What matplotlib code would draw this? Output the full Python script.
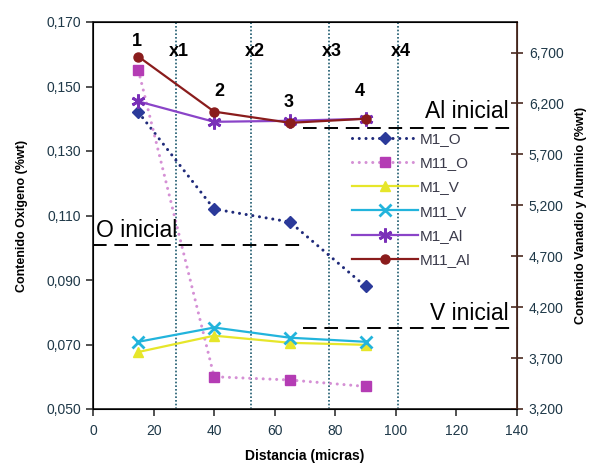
import matplotlib
matplotlib.use("Agg")
import matplotlib.pyplot as plt

plt.rcParams['font.family'] = ['Liberation Sans', 'DejaVu Sans']

# ------------------------------------------------------------
# datos
# ------------------------------------------------------------
distancia = [15, 40, 65, 90]   # micras

# oxigeno (eje izquierdo, %wt)
m1_o = [0.142, 0.112, 0.108, 0.088]
m11_o = [0.155, 0.060, 0.059, 0.057]

# vanadio y aluminio (eje derecho, %wt)
m1_v = [3.76, 3.92, 3.85, 3.83]
m11_v = [3.86, 4.00, 3.90, 3.86]
m1_al = [6.22, 6.02, 6.03, 6.05]
m11_al = [6.66, 6.12, 6.01, 6.05]

# valores iniciales
o_inicial = 0.101
al_inicial = 5.96
v_inicial = 4.00

# limites de zona x1..x4
limites = [27.5, 52.3, 77.8, 100.7]
zonas = ["x1", "x2", "x3", "x4"]

# numeros de punto 1..4 (x, y en eje oxigeno)
puntos_x = [14.5, 41.6, 64.7, 88.1]
puntos_y = [0.1638, 0.1483, 0.1449, 0.1483]
puntos_txt = ["1", "2", "3", "4"]

tick_color = "#1e3848"
punteado = (0, (0.01, 2.2))   # puntos redondos

fig = plt.figure(figsize=(5.97, 4.66), dpi=100)
ax = fig.add_axes([93 / 597, 1 - 409 / 466, 424 / 597, 387 / 466])
ax2 = ax.twinx()

# lineas verticales de las zonas
for xl in limites:
    ax.axvline(xl, color="#1d5a6e", lw=1.2, ls=(0, (1, 1.2)), zorder=1)

# series de oxigeno
ax.plot(distancia, m1_o, color="#1f2a7a", ls=punteado, lw=2.2, dash_capstyle="round",
        marker="D", ms=6.5, mfc="#2b3a9a", mec="#2b3a9a", label="M1_O", zorder=3)
ax.plot(distancia, m11_o, color="#d590d5", ls=punteado, lw=2.2, dash_capstyle="round",
        marker="s", ms=6.5, mfc="#b43cb4", mec="#b43cb4", label="M11_O", zorder=3)

# series de vanadio y aluminio
ax2.plot(distancia, m1_v, color="#e6e62a", lw=1.6,
         marker="^", ms=7, mfc="#e6e62a", mec="#e6e62a", label="M1_V", zorder=3)
ax2.plot(distancia, m11_v, color="#22b4dc", lw=1.6,
         marker="x", ms=8, mew=2, label="M11_V", zorder=3)
ax2.plot(distancia, m1_al, color="#8a44c8", lw=1.6,
         marker=(6, 2, 0), ms=10, mew=2, mec="#7a30b8", label="M1_Al", zorder=3)
ax2.plot(distancia, m11_al, color="#8a1c1c", lw=1.6,
         marker="o", ms=6.5, mfc="#8a1c1c", mec="#8a1c1c", label="M11_Al", zorder=4)

# lineas de valores iniciales
ax.hlines(o_inicial, 0, 69.5, colors="black", lw=1.4, linestyles=(0, (7, 4)), zorder=2)
ax2.hlines(al_inicial, 69.5, 140, colors="black", lw=1.4, linestyles=(0, (7, 4)), zorder=2)
ax2.hlines(v_inicial, 69.5, 140, colors="black", lw=1.4, linestyles=(0, (7, 4)), zorder=2)

ax.text(1.0, 0.1033, "O inicial", fontsize=16.5, ha="left", va="baseline")
ax2.text(137.3, 6.058, "Al inicial", fontsize=16.5, ha="right", va="baseline")
ax2.text(137.3, 4.074, "V inicial", fontsize=16.5, ha="right", va="baseline")

# etiquetas de zona y de punto
for xl, z in zip(limites, zonas):
    ax.text(xl + 1, 0.1607, z, fontsize=13, fontweight="bold", ha="center", va="center")
for px, py, t in zip(puntos_x, puntos_y, puntos_txt):
    ax.text(px, py, t, fontsize=13, fontweight="bold", ha="center", va="center")

# ejes
ax.set_xlim(0, 140)
ax.set_ylim(0.050, 0.170)
ax2.set_ylim(3.2, 7.0)

xt = list(range(0, 141, 20))
ax.set_xticks(xt)
ax.set_xticklabels([str(v) for v in xt])

yt = [0.050, 0.070, 0.090, 0.110, 0.130, 0.150, 0.170]
ax.set_yticks(yt)
ax.set_yticklabels([f"{v:.3f}".replace(".", ",") for v in yt])

yt2 = [3.2, 3.7, 4.2, 4.7, 5.2, 5.7, 6.2, 6.7]
ax2.set_yticks(yt2)
ax2.set_yticklabels([f"{v:.3f}".replace(".", ",") for v in yt2])

ax.tick_params(axis="both", direction="out", length=5, width=1.2,
               labelsize=10, labelcolor=tick_color, colors="#333333")
ax.tick_params(axis="x", pad=6)
ax2.tick_params(axis="y", direction="inout", length=9, width=1.2,
                labelsize=10, labelcolor=tick_color, colors="#4a2a20", pad=4)

for s in ["left", "bottom", "top"]:
    ax.spines[s].set_color("#2a2a2a")
    ax.spines[s].set_linewidth(1.3)
ax2.spines["right"].set_color("#4a2a20")
ax2.spines["right"].set_linewidth(1.3)

ax.set_xlabel("Distancia (micras)", fontsize=10, fontweight="bold", labelpad=8)
ax.set_ylabel("Contenido Oxigeno (%wt)", fontsize=9, fontweight="bold", labelpad=13)
ax2.set_ylabel("Contenido Vanadio y Aluminio (%wt)", fontsize=9, fontweight="bold", labelpad=8)

# leyenda
h1, l1 = ax.get_legend_handles_labels()
h2, l2 = ax2.get_legend_handles_labels()
leg = ax2.legend(h1 + h2, l1 + l2, loc="upper left",
                 bbox_to_anchor=(352 / 597, 1 - 132 / 466), bbox_transform=fig.transFigure,
                 frameon=False, fontsize=11, handlelength=4.3, handletextpad=0.15,
                 labelspacing=0.67, borderpad=0, borderaxespad=0)
for t in leg.get_texts():
    t.set_color("#3a3a4a")

fig.savefig("out.png", dpi=100)
plt.close(fig)
